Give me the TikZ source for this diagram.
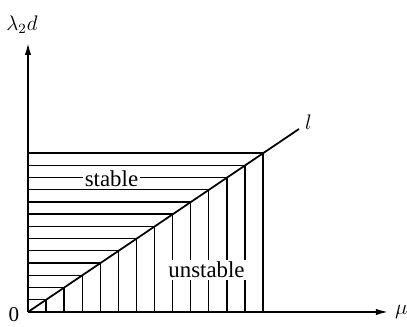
\documentclass[tikz,border=0pt]{standalone}
\usepackage{amsmath}
\usepackage{fontspec}
\setmainfont{Liberation Serif}
\usetikzlibrary{arrows.meta, positioning, calc}
\tikzset{
  axis/.style={-{Latex[length=7.4pt, width=3.6pt]}, line width=1.2pt},
  hatch/.style={line width=0.75pt},
  diag/.style={line width=1pt},
  region/.style={fill=white, inner sep=1pt, font=\fontsize{13}{15}\selectfont}
}

\begin{document}
\begin{tikzpicture}[x=0.02cm, y=0.02cm]
  \useasboundingbox (-28,-15) rectangle (379,312);

  % Region size (13 steps each way)
  \def\W{235}
  \def\H{159}

  % Staircase hatching under and over the line l
  \foreach \k in {1,...,13} {
    \draw[hatch] (0,{\k*\H/13}) -- ({\k*\W/13},{\k*\H/13});
    \draw[hatch] ({\k*\W/13},0) -- ({\k*\W/13},{\k*\H/13});
  }

  % Region labels
  \node[region] (stable) at (83.5,133.6) {stable};
  \node[region] (unstable) at (178.5,42) {unstable};

  % Line l
  \coordinate (O) at (0,0);
  \coordinate (lend) at (271,183);
  \draw[diag] (O) -- (lend);
  \node[right=0pt of lend, yshift=4pt, font=\large] (llab) {$l$};

  % Draw axes
  \coordinate (xend) at (361,0);
  \coordinate (yend) at (0,270);
  \draw[axis] (O) -- (xend);
  \draw[axis] (O) -- (yend);
  \node[right=0pt of xend, font=\large] (mu) {$\mu$};
  \node[font=\large] (lam) at (-6,287) {$\lambda_2 d$};
  \node[font=\large] (zero) at (-14,-3) {0};

\end{tikzpicture}
\end{document}
